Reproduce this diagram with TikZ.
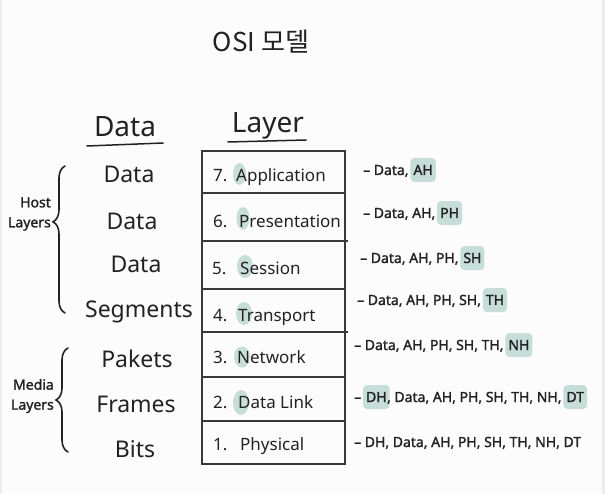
\documentclass[tikz,border=0pt]{standalone}
\usepackage{fontspec}
\setmainfont{Noto Sans}
\newfontfamily\krfont{Noto Sans CJK KR}
\newfontfamily\annfont{Noto Sans}[FakeBold=1.6]
\usetikzlibrary{decorations.pathreplacing}
\definecolor{hl}{RGB}{199,221,216}
\definecolor{ink}{RGB}{34,34,34}
\definecolor{bg}{RGB}{252,252,252}
\definecolor{edgegray}{RGB}{236,236,236}
\begin{document}
\begin{tikzpicture}[x=1pt,y=-1pt,
  txt/.style={inner sep=0pt, text=ink},
  datatxt/.style={txt, anchor=base, font=\fontsize{23}{27}\selectfont},
  headtxt/.style={txt, anchor=base, font=\fontsize{28}{32}\selectfont},
  numtxt/.style={txt, anchor=base west, font=\fontsize{17}{20}\selectfont},
  laytxt/.style={txt, anchor=base west, font=\fontsize{17}{20}\selectfont},
  anntxt/.style={txt, anchor=base west, font=\annfont\fontsize{14}{16}\selectfont},
  annhl/.style={anntxt, fill=hl, inner xsep=3pt, minimum height=24pt, rounded corners=4pt},
  blob/.style={fill=hl},
  grp/.style={txt, anchor=east, align=right, font=\annfont\fontsize{14}{20}\selectfont},
  brc/.style={decorate, draw=ink, line width=1.6pt, line cap=round},
  tbl/.style={draw=ink!90, line width=1.1pt},
  uline/.style={draw=ink, line width=1.5pt, line cap=round}]
% canvas
\useasboundingbox (0,0) rectangle (605,494);
\fill[bg] (0,0) rectangle (605,494);
\fill[edgegray] (0,0) rectangle (2,494);
\fill[edgegray] (602,0) rectangle (605,494);

% title
\node[txt, anchor=base, font=\krfont\fontsize{26}{30}\selectfont] (title) at (261,52) {OSI 모델};

% headers
\node[headtxt] (hdD) at (125,137) {Data};
\node[headtxt] (hdL) at (268,133) {Layer};
\draw[uline] ([xshift=-7pt,yshift=-9pt]hdD.base west) -- ([xshift=7pt,yshift=-6pt]hdD.base east);
\draw[uline] ([xshift=-4pt,yshift=-9pt]hdL.base west) -- ([xshift=2pt,yshift=-7pt]hdL.base east);

% table
\draw[tbl] (202,151) rectangle (345,464);
\draw[tbl] (202,193) -- (345,193);
\draw[tbl] (202,241) -- (348,241);
\draw[tbl] (202,289) -- (345,289);
\draw[tbl] (202,332) -- (348,332);
\draw[tbl] (202,377) -- (345,377);
\draw[tbl] (202,421) -- (345,421);

% highlight blobs behind first letters
\fill[blob] (239.5,174) ellipse [x radius=6.5, y radius=11];
\fill[blob] (243,218.5) ellipse [x radius=6.5, y radius=11.5];
\fill[blob] (245,266.5) ellipse [x radius=8, y radius=11.5];
\fill[blob] (244,313.5) ellipse [x radius=8, y radius=11.5];
\fill[blob] (242,357) ellipse [x radius=8, y radius=10.5];
\fill[blob] (241,402.5) ellipse [x radius=8, y radius=12.5];

% layer numbers and names
\node[numtxt] (n7) at (213,182) {7.};
\node[laytxt] (l7) at (236,182) {Application};
\node[numtxt] (n6) at (213,228) {6.};
\node[laytxt] (l6) at (239,228) {Presentation};
\node[numtxt] (n5) at (212,275) {5.};
\node[laytxt] (l5) at (240,275) {Session};
\node[numtxt] (n4) at (213,322) {4.};
\node[laytxt] (l4) at (238,322) {Transport};
\node[numtxt] (n3) at (213,363) {3.};
\node[laytxt] (l3) at (237,363) {Network};
\node[numtxt] (n2) at (213,408) {2.};
\node[laytxt] (l2) at (238,408) {Data Link};
\node[numtxt] (n1) at (213,450) {1.};
\node[laytxt] (l1) at (240,450) {Physical};

% data units
\node[datatxt] (d7) at (129,183) {Data};
\node[datatxt] (d6) at (132,230) {Data};
\node[datatxt] (d5) at (136,273) {Data};
\node[datatxt] (d4) at (139,317) {Segments};
\node[datatxt] (d3) at (137,367) {Pakets};
\node[datatxt] (d2) at (136,412) {Frames};
\node[datatxt] (d1) at (135,457) {Bits};

% groups
\node[grp] (host) at (51,214) {Host\\Layers};
\node[grp] (media) at (54,396) {Media\\Layers};
\coordinate (hb1) at (65,313);
\coordinate (hb2) at (65,166);
\coordinate (mb1) at (68,452);
\coordinate (mb2) at (68,348);
\draw[brc, decoration={brace, amplitude=12pt, aspect=0.62}] (hb1) -- (hb2);
\draw[brc, decoration={brace, amplitude=12pt, aspect=0.5}] (mb1) -- (mb2);

% annotations
\node[anntxt] (a7a) at (363,175) {– Data,};
\node[annhl] (a7b) at ([xshift=1.5pt]a7a.base east) {AH};

\node[anntxt] (a6a) at (363,218) {– Data, AH,};
\node[annhl] (a6b) at ([xshift=1.5pt]a6a.base east) {PH};

\node[anntxt] (a5a) at (360,263) {– Data, AH, PH,};
\node[annhl] (a5b) at ([xshift=1.5pt]a5a.base east) {SH};

\node[anntxt] (a4a) at (357,305) {– Data, AH, PH, SH,};
\node[annhl] (a4b) at ([xshift=1.5pt]a4a.base east) {TH};

\node[anntxt] (a3a) at (354,350) {– Data, AH, PH, SH, TH,};
\node[annhl] (a3b) at ([xshift=1.5pt]a3a.base east) {NH};

\node[anntxt] (a2a) at (354,402) {–};
\node[annhl] (a2b) at ([xshift=1.5pt]a2a.base east) {DH};
\node[anntxt] (a2c) at ([xshift=-3pt]a2b.base east) {, Data, AH, PH, SH, TH, NH,};
\node[annhl] (a2d) at ([xshift=1.5pt]a2c.base east) {DT};

\node[anntxt] (a1a) at (354,447) {– DH, Data, AH, PH, SH, TH, NH, DT};
\end{tikzpicture}
\end{document}
